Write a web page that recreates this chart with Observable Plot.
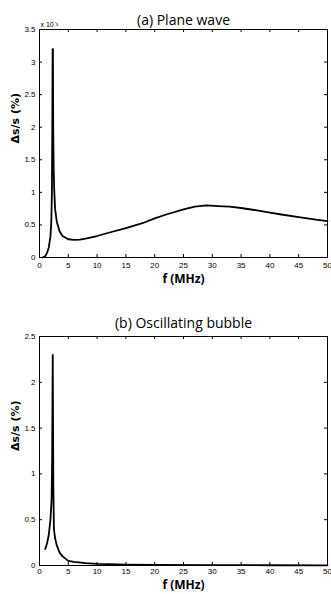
<!DOCTYPE html>
<html>
<head>
<meta charset="utf-8">
<script src="https://cdn.jsdelivr.net/npm/d3@7"></script>
<script src="https://cdn.jsdelivr.net/npm/@observablehq/plot@0.6"></script>
<style>
  html, body { margin: 0; padding: 0; background: white; }
  #chart { width: 331px; height: 594px; position: relative; }
  #chart svg { display: block; }
</style>
</head>
<body>
<div id="chart"></div>
<script>
// Panel (a): Plane wave
const freqA = [0.5, 1, 1.3, 1.6, 1.9, 2.05, 2.15, 2.22, 2.28, 2.33, 2.38, 2.45, 2.55, 2.7, 3, 3.5, 4, 5, 6, 7, 8, 10, 12, 15, 18, 20, 22, 25, 27, 29, 31, 33, 35, 38, 40, 42, 45, 48, 50];
const valA  = [0, 0.02, 0.07, 0.15, 0.32, 0.55, 1.0, 2.0, 3.2, 3.2, 2.0, 1.4, 1.05, 0.75, 0.55, 0.4, 0.33, 0.28, 0.27, 0.275, 0.29, 0.33, 0.38, 0.45, 0.53, 0.6, 0.66, 0.74, 0.78, 0.8, 0.79, 0.78, 0.76, 0.72, 0.69, 0.66, 0.62, 0.58, 0.56];
// Panel (b): Oscillating bubble
const freqB = [1, 1.3, 1.6, 1.9, 2.1, 2.2, 2.25, 2.3, 2.35, 2.4, 2.5, 2.7, 3, 3.5, 4, 5, 6, 8, 10, 12, 15, 20, 30, 40, 50];
const valB  = [0.18, 0.24, 0.33, 0.5, 0.72, 1.2, 1.8, 2.3, 1.6, 0.9, 0.4, 0.3, 0.22, 0.14, 0.1, 0.05, 0.04, 0.025, 0.018, 0.015, 0.01, 0.006, 0.004, 0.003, 0.002];

const xTicks = [0, 5, 10, 15, 20, 25, 30, 35, 40, 45, 50];
const yTicksA = [0, 0.5, 1, 1.5, 2, 2.5, 3, 3.5];
const yTicksB = [0, 0.5, 1, 1.5, 2, 2.5];

const titleA = "(a) Plane wave";
const titleB = "(b) Oscillating bubble";
const xLabel = "f (MHz)";
const yLabel = "Δs/s (%)";
const exponentA = "x 10⁻³";

function panel({freq, val, yMax, yTicks, title, height, mt, mb, titleDy, labelDy, xPad, exponent}) {
  const ml = 39, mr = 4, width = 331;
  const fh = height - mt - mb, fw = width - ml - mr;
  const data = freq.map((f, i) => ({f, v: val[i]}));
  const tickLen = 3;
  const marks = [
    Plot.frame({stroke: "black", strokeWidth: 1}),
    Plot.axisX(xTicks, {tickSize: 0, tickPadding: xPad, label: null, fontSize: 8, fontFamily: "Liberation Sans Narrow, Liberation Sans, sans-serif"}),
    Plot.axisY(yTicks, {tickSize: 0, tickPadding: 4, label: null, fontSize: 8, fontFamily: "Liberation Sans Narrow, Liberation Sans, sans-serif", tickFormat: d => String(d)}),
    Plot.tickX(xTicks, {x: d => d, insetTop: fh - tickLen, stroke: "black"}),
    Plot.tickX(xTicks, {x: d => d, insetBottom: fh - tickLen, stroke: "black"}),
    Plot.tickY(yTicks, {y: d => d, insetRight: fw - tickLen, stroke: "black"}),
    Plot.tickY(yTicks, {y: d => d, insetLeft: fw - tickLen, stroke: "black"}),
    Plot.line(data, {x: "f", y: "v", stroke: "black", strokeWidth: 1.8}),
    Plot.text([title], {frameAnchor: "top", dy: -titleDy, fontSize: 14, fontFamily: "Open Sans, sans-serif", fill: "black"}),
    Plot.text([xLabel], {frameAnchor: "bottom", dy: labelDy, fontSize: 12, fontWeight: "bold", fontFamily: "Open Sans, sans-serif", fill: "black"}),
    Plot.text([yLabel], {frameAnchor: "left", dx: -24, rotate: -90, fontSize: 11, fontWeight: "bold", fontFamily: "DejaVu Sans, sans-serif", fill: "black"})
  ];
  if (exponent) {
    marks.push(Plot.text([exponent], {frameAnchor: "top-left", dx: 1, dy: -7, textAnchor: "start", fontSize: 7, fontFamily: "Liberation Sans, sans-serif", fill: "black"}));
  }
  return Plot.plot({
    width, height,
    marginTop: mt, marginBottom: mb, marginLeft: ml, marginRight: mr,
    x: {domain: [0, 50]},
    y: {domain: [0, yMax]},
    style: {background: "white", color: "black", fontFamily: "Liberation Sans, sans-serif", fontSize: "8px"},
    marks
  });
}

const chart = document.getElementById("chart");
chart.append(panel({freq: freqA, val: valA, yMax: 3.5, yTicks: yTicksA, title: titleA, height: 297, mt: 29, mb: 40, titleDy: 14, labelDy: 25, xPad: 5, exponent: exponentA}));
chart.append(panel({freq: freqB, val: valB, yMax: 2.5, yTicks: yTicksB, title: titleB, height: 297, mt: 39, mb: 29, titleDy: 18, labelDy: 23, xPad: 3}));
</script>
</body>
</html>
